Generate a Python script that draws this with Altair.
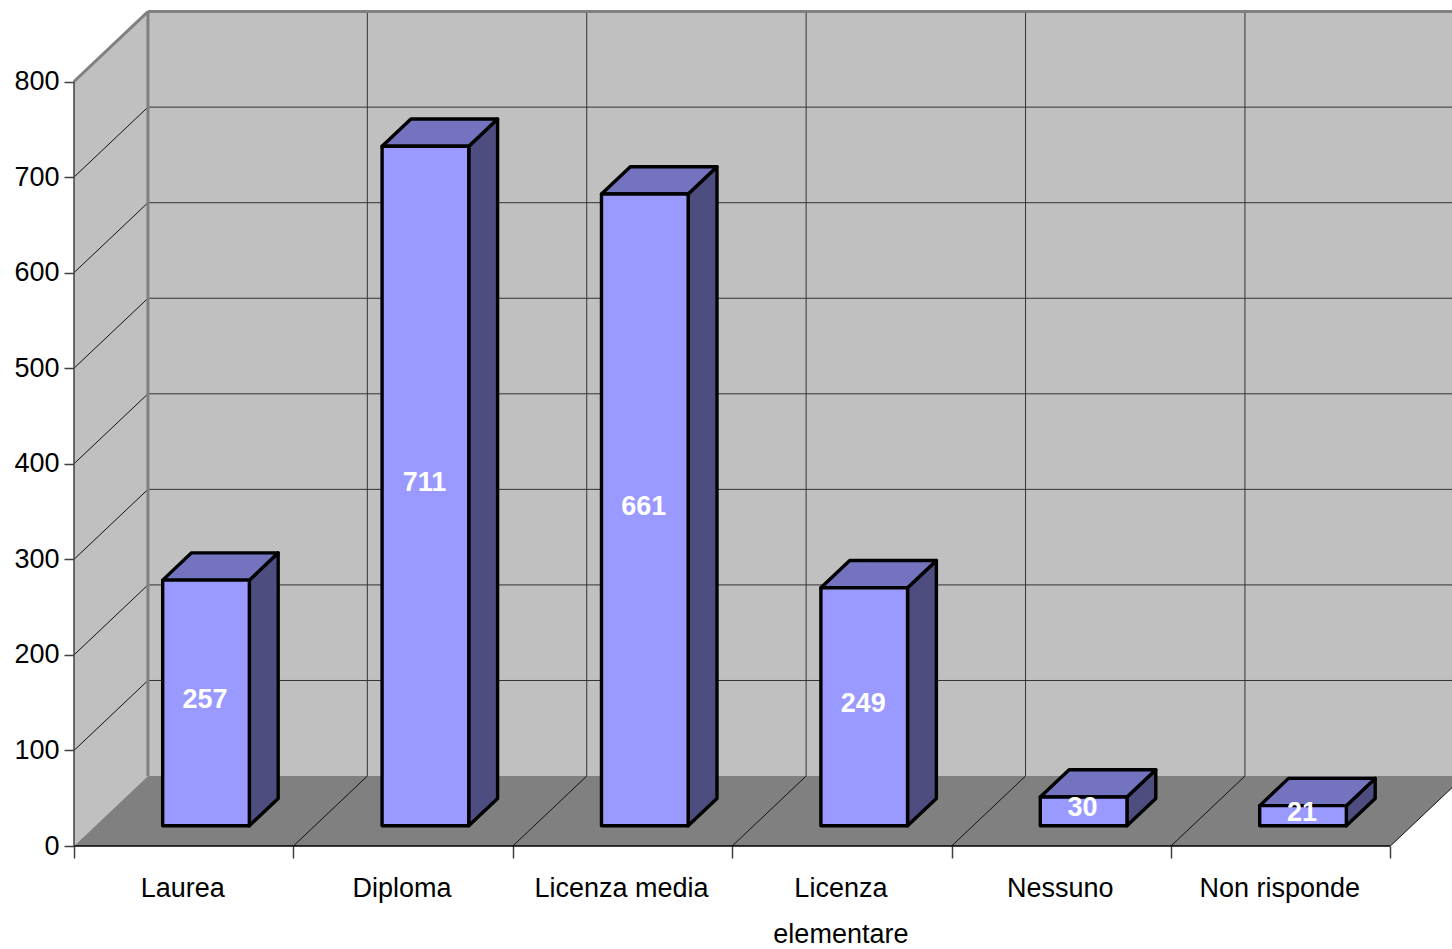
import altair as alt
import pandas as pd

categories = ["Laurea", "Diploma", "Licenza media", ["Licenza", "elementare"], "Nessuno", "Non risponde"]
values = [257, 711, 661, 249, 30, 21]
y_ticks = [0, 100, 200, 300, 400, 500, 600, 700, 800]
x_ticks = [0, 1, 2, 3, 4, 5, 6]

# Oblique projection, in axis units: a full step into the depth of the box
DEPTH_X = 0.337
DEPTH_Y = 73.2
BAR_WIDTH = 0.395
BAR_NEAR = 0.29
BAR_DEPTH = 0.39
BAR_SHIFT = 0.004

W, H = 1378, 846
x_scale = alt.Scale(domain=[0, W / 219.4], nice=False, zero=False)
y_scale = alt.Scale(domain=[0, H / 0.9556], nice=False, zero=False)
X = lambda f="x", **k: alt.X(f, type="quantitative", scale=x_scale, title=None, **k)
Y = lambda f="y", **k: alt.Y(f, type="quantitative", scale=y_scale, title=None, **k)


def vertical_face(x0, x1, low, high, y_shift):
    return [
        {"x": x0, "y": high, "y2": low},
        {"x": x1, "y": high + y_shift, "y2": low + y_shift},
    ]


def area_layer(rows, fill, **mark):
    return alt.Chart(pd.DataFrame(rows)).mark_area(fill=fill, **mark).encode(
        x=X(), y=Y(), y2="y2:Q", detail="id:N"
    )


def segments(rows, color, width):
    points = [{"id": i, "x": r["x"], "y": r["y"]} for i, r in enumerate(rows)]
    points += [{"id": i, "x": r["x2"], "y": r["y2"]} for i, r in enumerate(rows)]
    return alt.Chart(pd.DataFrame(points)).mark_line(color=color, strokeWidth=width).encode(
        x=X(), y=Y(), detail="id:N", order="x:Q"
    )


top = y_ticks[-1]
n = len(categories)

# Box: left wall, back wall, floor
left_wall = area_layer(
    [dict(r, id=0) for r in vertical_face(0, DEPTH_X, 0, top, DEPTH_Y)], "#c0c0c0"
)
back_wall = alt.Chart(pd.DataFrame([{"x": DEPTH_X, "x2": n + DEPTH_X, "y": DEPTH_Y, "y2": top + DEPTH_Y}])).mark_rect(
    fill="#c0c0c0"
).encode(x=X(), x2="x2:Q", y=Y(), y2="y2:Q")
floor = alt.Chart(pd.DataFrame([
    {"y": 0, "x": 0, "x2": n},
    {"y": DEPTH_Y, "x": DEPTH_X, "x2": n + DEPTH_X},
])).mark_area(fill="#808080", orient="horizontal").encode(x=X(), x2="x2:Q", y=Y())

grid_rows = []
for v in y_ticks[1:-1]:
    grid_rows.append({"x": DEPTH_X, "y": v + DEPTH_Y, "x2": n + DEPTH_X, "y2": v + DEPTH_Y})
for k in x_ticks[1:]:
    grid_rows.append({"x": k + DEPTH_X, "y": DEPTH_Y, "x2": k + DEPTH_X, "y2": top + DEPTH_Y})
back_grid = alt.Chart(pd.DataFrame(grid_rows)).mark_rule(color="#333333", strokeWidth=1).encode(
    x=X(), x2="x2:Q", y=Y(), y2="y2:Q"
)

diagonals = []
for v in y_ticks[1:-1]:
    diagonals.append({"x": 0, "y": v, "x2": DEPTH_X, "y2": v + DEPTH_Y})
for k in x_ticks[1:]:
    diagonals.append({"x": k, "y": 0, "x2": k + DEPTH_X, "y2": DEPTH_Y})
diag_grid = segments(diagonals, "#111111", 1)

wall_edges = segments(
    [{"x": 0, "y": top, "x2": DEPTH_X, "y2": top + DEPTH_Y},
     {"x": DEPTH_X, "y": top + DEPTH_Y, "x2": n + DEPTH_X, "y2": top + DEPTH_Y}],
    "#808080", 3,
)
back_corner = alt.Chart(pd.DataFrame([{"x": DEPTH_X, "y": DEPTH_Y, "y2": top + DEPTH_Y}])).mark_rule(
    color="#808080", strokeWidth=3
).encode(x=X(), y=Y(), y2="y2:Q")

# Axis lines
axis_lines = alt.Chart(pd.DataFrame([{"x": 0, "x2": n, "y": 0}])).mark_rule(color="#000000", strokeWidth=1.5).encode(
    x=X(), x2="x2:Q", y=Y()
)
y_line = alt.Chart(pd.DataFrame([{"x": 0, "y": 0, "y2": top}])).mark_rule(color="#404040", strokeWidth=1.5).encode(
    x=X(), y=Y(), y2="y2:Q"
)

# Bars
offset_x = BAR_NEAR * DEPTH_X + BAR_SHIFT
offset_y = BAR_NEAR * DEPTH_Y
side_x = BAR_DEPTH * DEPTH_X
side_y = BAR_DEPTH * DEPTH_Y

front_rows, side_rows, top_rows, label_rows = [], [], [], []
for i, v in enumerate(values):
    x0 = i + (1 - BAR_WIDTH) / 2 + offset_x
    x1 = x0 + BAR_WIDTH
    front_rows.append({"x": x0, "x2": x1, "y": offset_y, "y2": offset_y + v})
    for r in vertical_face(x1, x1 + side_x, offset_y, offset_y + v, side_y):
        side_rows.append(dict(r, id=i))
    top_rows.append({"id": i, "y": offset_y + v, "x": x0, "x2": x1})
    top_rows.append({"id": i, "y": offset_y + v + side_y, "x": x0 + side_x, "x2": x1 + side_x})
    label_rows.append({"x": (x0 + x1) / 2, "y": offset_y + v / 2, "text": str(v)})

stroke = dict(stroke="#000000", strokeWidth=3.4, strokeJoin="round")
sides = area_layer(side_rows, "#4d4d80", **stroke)
tops = alt.Chart(pd.DataFrame(top_rows)).mark_area(fill="#7373bf", orient="horizontal", **stroke).encode(
    x=X(), x2="x2:Q", y=Y(), detail="id:N"
)
fronts = alt.Chart(pd.DataFrame(front_rows)).mark_rect(fill="#9999ff", **stroke).encode(
    x=X(), x2="x2:Q", y=Y(), y2="y2:Q"
)

FONT = "Liberation Sans"
bar_labels = alt.Chart(pd.DataFrame(label_rows)).mark_text(
    font=FONT, fontSize=27, fontWeight="bold", color="#ffffff", baseline="middle", dx=-1, dy=-3
).encode(x=X(), y=Y(), text="text:N")

cat_df = pd.DataFrame({"x": [i + 0.5 for i in range(n)], "text": categories})
cat_labels = alt.Chart(cat_df).mark_text(
    font=FONT, fontSize=27, color="#000000", baseline="alphabetic", lineHeight=46, dx=-1
).encode(x=X(), y=alt.value(897), text="text")

# Carries the real axes with their ticks and number labels
axes = alt.Chart(pd.DataFrame({"x": x_ticks[:1], "y": y_ticks[:1]})).mark_point(opacity=0).encode(
    x=X(axis=alt.Axis(values=x_ticks, labels=False, ticks=True, tickSize=12, tickColor="#404040",
                      tickWidth=1.5, domain=False, grid=False)),
    y=Y(axis=alt.Axis(values=y_ticks, labelFont=FONT, labelFontSize=27, labelColor="#000000",
                      labelPadding=5, tickSize=10, tickColor="#404040", tickWidth=1.5,
                      domain=False, grid=False, labelOverlap=False)),
)

chart = alt.layer(
    left_wall, back_wall, floor, back_grid, diag_grid, back_corner, wall_edges,
    axis_lines, y_line, axes, sides, tops, fronts, bar_labels, cat_labels,
).properties(
    width=W, height=H,
    padding={"left": 74, "top": 0, "right": 0, "bottom": 103},
    autosize=alt.AutoSizeParams(type="none"),
    background="#ffffff",
).configure_view(stroke=None)

chart.save("out.html", embed_options={"renderer": "svg", "actions": False})
